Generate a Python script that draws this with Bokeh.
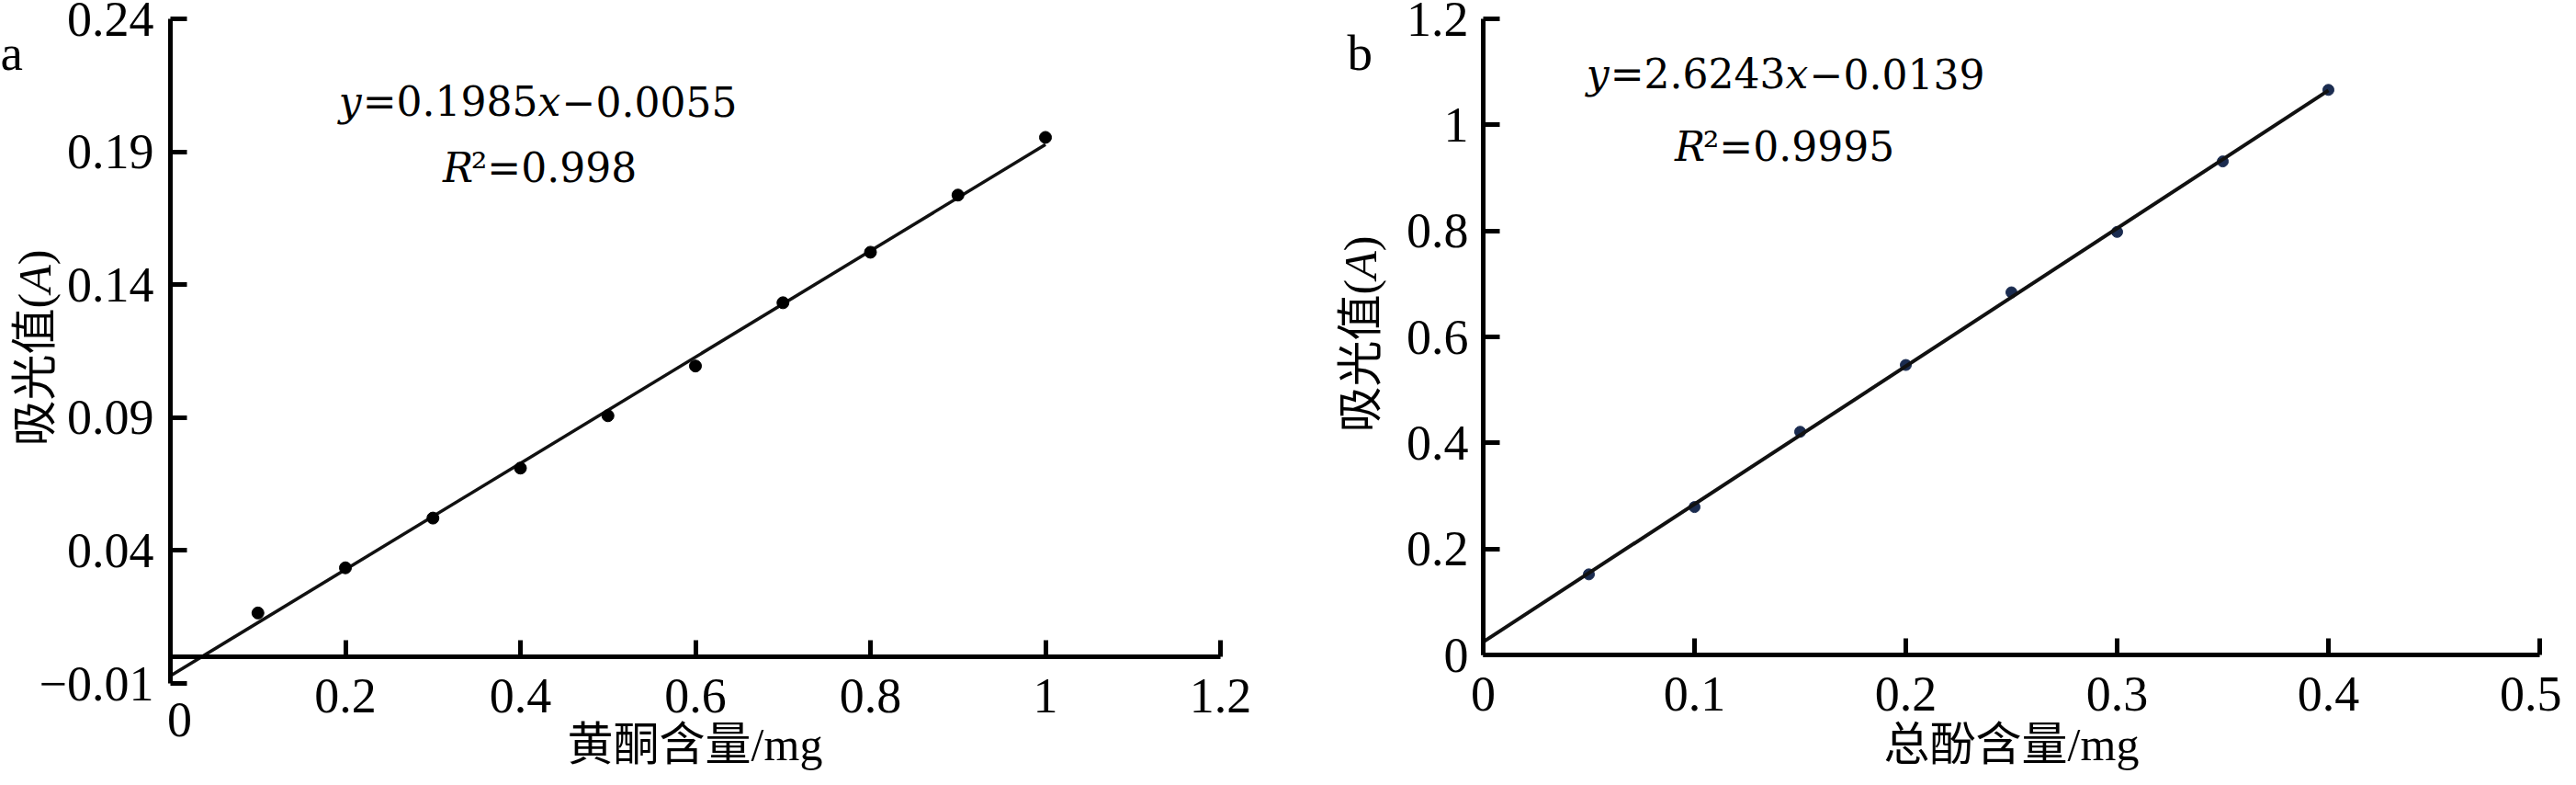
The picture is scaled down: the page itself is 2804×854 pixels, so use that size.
import numpy as np
from bokeh.plotting import figure
from bokeh.models import Range1d, FixedTicker, LinearAxis, Label, CustomJSTickFormatter
from bokeh.layouts import row
from bokeh.embed import file_html
from bokeh.resources import INLINE

# ---------------- data ----------------
flav_mg = [0.1, 0.2, 0.3, 0.4, 0.5, 0.6, 0.7, 0.8, 0.9, 1.0]
flav_abs = [0.0165, 0.0335, 0.0522, 0.0710, 0.0907, 0.1094, 0.1332, 0.1522, 0.1737, 0.1954]
phen_mg = [0.05, 0.10, 0.15, 0.20, 0.25, 0.30, 0.35, 0.40]
phen_abs = [0.152, 0.279, 0.421, 0.547, 0.684, 0.798, 0.931, 1.066]

a_xticks = [0, 0.2, 0.4, 0.6, 0.8, 1.0, 1.2]
a_xlabels = ["0", "0.2", "0.4", "0.6", "0.8", "1", "1.2"]
a_yticks = [-0.01, 0.04, 0.09, 0.14, 0.19, 0.24]
a_ylabels = ["\u22120.01", "0.04", "0.09", "0.14", "0.19", "0.24"]
b_xticks = [0, 0.1, 0.2, 0.3, 0.4, 0.5]
b_xlabels = ["0", "0.1", "0.2", "0.3", "0.4", "0.5"]
b_yticks = [0, 0.2, 0.4, 0.6, 0.8, 1.0, 1.2]
b_ylabels = ["0", "0.2", "0.4", "0.6", "0.8", "1", "1.2"]

a_eq = [("y", True), ("=0.1985", False), ("x", True), ("\u22120.0055", False)]
a_r2 = [("R", True), ("\u00b2=0.998", False)]
b_eq = [("y", True), ("=2.6243", False), ("x", True), ("\u22120.0139", False)]
b_r2 = [("R", True), ("\u00b2=0.9995", False)]

a_xtitle = "黄酮含量/mg"
b_xtitle = "总酚含量/mg"
ytitle = [("吸光值(", False), ("A", True), (")", False)]

# ---------------- style ----------------
SERIF = "'Liberation Serif', 'Noto Sans CJK SC'"
TICK_FS = "54px"
EQ_FONT = "DejaVu Serif"
EQ_FS = 44
TITLE_FS = 50
PAGE = 8
H = 838

# DejaVu Serif advance widths (em)
ADV = {".": 0.318, "=": 0.838, "\u2212": 0.838, "\u00b2": 0.401,
       "y": 0.592, "x": 0.592, "R": 0.70}
# Liberation Serif / CJK advance widths (em) for the y title
TADV = {"(": 0.333, ")": 0.333, "A": 0.611}


def text_w(s):
    return sum(ADV.get(c, 0.636) for c in s) * EQ_FS


def title_w(s):
    return sum(TADV.get(c, 1.0) for c in s) * TITLE_FS


class Geo:
    """Maps reference-image pixels to data for a figure whose frame fills the canvas."""
    def __init__(self, page_x, W, px0, px1, x0, x1, py0, py1, y0, y1):
        self.page_x, self.W = page_x, W
        self.kx = (px1 - px0) / (x1 - x0)
        self.ky = (py0 - py1) / (y1 - y0)
        self.xs = x0 - px0 / self.kx
        self.xe = x0 + (W - px0) / self.kx
        self.ye = y1 + py1 / self.ky
        self.ys = y1 - (H - py1) / self.ky

    def dx(self, img_x):
        return self.xs + (img_x - self.page_x) / self.kx

    def dy(self, img_y):
        return self.ye - (img_y - PAGE) / self.ky


def style_axis(ax, ticks, labels, standoff):
    ax.ticker = FixedTicker(ticks=ticks)
    ax.formatter = CustomJSTickFormatter(args=dict(vals=ticks, labs=labels), code="""
        for (let i = 0; i < vals.length; i++) {
            if (Math.abs(vals[i] - tick) < 1e-9) { return labs[i]; }
        }
        return "";
    """)
    ax.axis_line_width = 5
    ax.axis_line_color = "black"
    ax.major_tick_line_width = 5
    ax.major_tick_line_color = "black"
    ax.major_tick_in = 18
    ax.major_tick_out = 0
    ax.minor_tick_line_color = None
    ax.major_label_text_font = SERIF
    ax.major_label_text_font_size = TICK_FS
    ax.major_label_text_color = "black"
    ax.major_label_standoff = standoff
    ax.axis_label = None


def make_panel(geo, xticks, xlabels, yticks, ylabels, ystand):
    p = figure(width=geo.W, height=H, output_backend="svg", toolbar_location=None,
               x_range=Range1d(geo.xs, geo.xe), y_range=Range1d(geo.ys, geo.ye),
               x_axis_location=None, y_axis_location=None,
               min_border=0, min_border_left=0, min_border_right=0,
               min_border_top=0, min_border_bottom=0)
    p.grid.visible = False
    p.outline_line_color = None
    p.background_fill_color = "white"
    p.border_fill_color = "white"
    yax = LinearAxis(fixed_location=0, bounds=(yticks[0], yticks[-1]))
    style_axis(yax, yticks, ylabels, ystand)
    p.add_layout(yax, "left")
    xax = LinearAxis(fixed_location=0, bounds=(xticks[0], xticks[-1]))
    style_axis(xax, xticks, xlabels, 24)
    p.add_layout(xax, "below")
    return p


def add_pieces(p, geo, pieces, cx_img, base_img):
    total = sum(text_w(t) for t, _ in pieces)
    cur = cx_img - total / 2
    for t, it in pieces:
        p.add_layout(Label(x=geo.dx(cur), y=geo.dy(base_img), text=t,
                           text_align="left", text_baseline="alphabetic",
                           text_font=EQ_FONT, text_font_size=f"{EQ_FS}px",
                           text_font_style="italic" if it else "normal",
                           text_color="black"))
        cur += text_w(t)


def add_titles(p, geo, xtitle, xt_pos, yt_pos, tag, tag_pos):
    p.add_layout(Label(x=geo.dx(xt_pos[0]), y=geo.dy(xt_pos[1]), text=xtitle,
                       text_align="center", text_baseline="middle",
                       text_font=SERIF, text_font_size=f"{TITLE_FS}px", text_color="black"))
    # rotated y title, written bottom-to-top, piece by piece (italic A)
    total = sum(title_w(t) for t, _ in ytitle)
    cur = yt_pos[1] + total / 2
    for t, it in ytitle:
        p.add_layout(Label(x=geo.dx(yt_pos[0]), y=geo.dy(cur), text=t, angle=np.pi / 2,
                           text_align="left", text_baseline="middle",
                           text_font=SERIF, text_font_size=f"{TITLE_FS}px",
                           text_font_style="italic" if it else "normal",
                           text_color="black"))
        cur -= title_w(t)
    p.add_layout(Label(x=geo.dx(tag_pos[0]), y=geo.dy(tag_pos[1]), text=tag,
                       text_align="left", text_baseline="alphabetic",
                       text_font="Liberation Serif", text_font_size="55px",
                       text_color="black"))


# ---------------- panel a ----------------
WA = 1405
# x: 0 -> fig px 185, 1.2 -> 1328 ; y: 0.24 -> fig px 20, -0.01 -> 743
ga = Geo(PAGE, WA, 185, 1328, 0, 1.2, 743, 20, -0.01, 0.24)
# the "0" of the x axis sits lower in the original; drawn separately below
pa = make_panel(ga, a_xticks, [""] + a_xlabels[1:], a_yticks, a_ylabels, 18)
pa.add_layout(Label(x=a_xticks[0], y=ga.dy(790), text=a_xlabels[0],
                    x_offset=10, text_align="center", text_baseline="middle",
                    text_font=SERIF, text_font_size=TICK_FS, text_color="black"))
ka, ba = np.polyfit(flav_mg, flav_abs, 1)
fit_xa = [0, max(flav_mg)]
pa.line(fit_xa, [ka * v + ba for v in fit_xa], line_color="#111111", line_width=3.5)
pa.scatter(flav_mg, flav_abs, size=13, color="black")
add_pieces(pa, ga, a_eq, 593, 118)
add_pieces(pa, ga, a_r2, 595, 190)
add_titles(pa, ga, a_xtitle, (764, 817), (45, 386), "a", (8, 65))

# ---------------- panel b ----------------
WB = 1383
gb = Geo(PAGE + WA, WB, 209, 1359, 0, 0.5, 712, 20, 0, 1.2)
pb = make_panel(gb, b_xticks, b_xlabels, b_yticks, b_ylabels, 16)
kb, bb = np.polyfit(phen_mg, phen_abs, 1)
fit_xb = [0, max(phen_mg)]
pb.scatter(phen_mg, phen_abs, size=12, color="#1b2c50")
pb.line(fit_xb, [kb * v + bb for v in fit_xb], line_color="#111111", line_width=4)
add_pieces(pb, gb, b_eq, 1951, 88)
add_pieces(pb, gb, b_r2, 1950, 167)
add_titles(pb, gb, b_xtitle, (2197, 817), (1488, 371), "b", (1474, 65))

p = row(pa, pb)
open("out.html", "w").write(file_html(p, INLINE))
